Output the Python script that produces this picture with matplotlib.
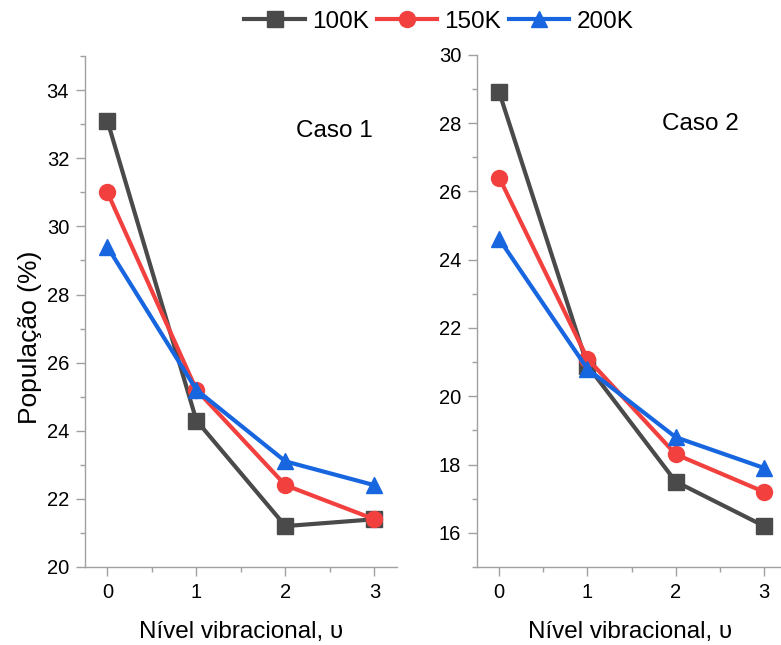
import matplotlib
matplotlib.use("Agg")
import matplotlib.pyplot as plt
from matplotlib.ticker import MultipleLocator

plt.rcParams['font.family'] = ['Liberation Sans', 'DejaVu Sans']

levels = [0, 1, 2, 3]
series_labels = ["100K", "150K", "200K"]

caso1_100K = [33.1, 24.3, 21.2, 21.4]
caso1_150K = [31.0, 25.2, 22.4, 21.4]
caso1_200K = [29.4, 25.2, 23.1, 22.4]

caso2_100K = [28.9, 20.9, 17.5, 16.2]
caso2_150K = [26.4, 21.1, 18.3, 17.2]
caso2_200K = [24.6, 20.8, 18.8, 17.9]

colors = ['#4a4a4a', '#f2403f', '#1766e0']
markers = ['s', 'o', '^']

fig = plt.figure(figsize=(7.81, 6.45), dpi=100)
ax1 = fig.add_axes([0.109, 0.121, 0.399, 0.792])
ax2 = fig.add_axes([0.611, 0.121, 0.392, 0.794])

spine_col = '#a0a0a0'

def style(ax, ylim, ymaj):
    for s in ['top', 'right']:
        ax.spines[s].set_visible(False)
    for s in ['left', 'bottom']:
        ax.spines[s].set_color(spine_col)
        ax.spines[s].set_linewidth(1.0)
    ax.set_xlim(-0.25, 3.25)
    ax.set_ylim(*ylim)
    ax.xaxis.set_major_locator(MultipleLocator(1))
    ax.xaxis.set_minor_locator(MultipleLocator(0.5))
    ax.yaxis.set_major_locator(MultipleLocator(ymaj))
    ax.yaxis.set_minor_locator(MultipleLocator(1))
    ax.tick_params(which='both', direction='out', color=spine_col, labelsize=14.5,
                   labelcolor='black', pad=5)
    ax.tick_params(which='major', length=6.5, width=1)
    ax.tick_params(which='minor', length=3.5, width=1)
    ax.set_xlabel("Nível vibracional, υ", fontsize=17.5, labelpad=14)

data1 = [caso1_100K, caso1_150K, caso1_200K]
data2 = [caso2_100K, caso2_150K, caso2_200K]

for ax, data in [(ax1, data1), (ax2, data2)]:
    for vals, c, m, lab in zip(data, colors, markers, series_labels):
        ax.plot(levels, vals, color=c, marker=m, markersize=11.5, linewidth=3,
                label=lab, clip_on=False, zorder=3)

style(ax1, (20, 35), 2)
style(ax2, (15, 30), 2)
ax2.set_xlim(-0.25, 3.22)

ax1.set_ylabel("População (%)", fontsize=19)
ax1.yaxis.set_label_coords(-0.14, 0.45)

ax1.text(2.55, 32.8, "Caso 1", fontsize=17.5, ha='center', va='center')
ax2.text(2.28, 27.96, "Caso 2", fontsize=17.5, ha='center', va='center')

handles, labels = ax1.get_legend_handles_labels()
fig.legend(handles, labels, loc='center', bbox_to_anchor=(0.562, 0.966), ncol=3,
           frameon=False, fontsize=17.5, handlelength=2.5, handletextpad=0.3,
           columnspacing=0.3)

fig.savefig("out.png", dpi=100)
